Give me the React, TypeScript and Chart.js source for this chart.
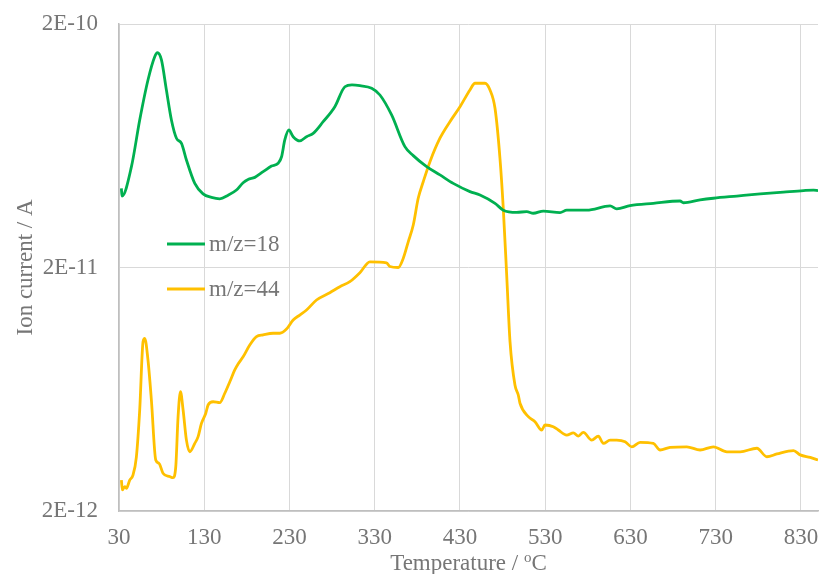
import { useEffect, useRef } from "react";
import { Chart, registerables } from "chart.js";

Chart.register(...registerables);

// m/z = 18 (water) — temperature in °C, ion current in pA
const tempH2O = [
  32.8, 33.5, 44.6, 54.3, 64.0, 71.9, 75.1, 79.8, 85.6, 91.5,
  97.4, 103.3, 109.1, 118.9, 128.6, 138.5, 148.2, 158.0, 167.8, 175.6,
  181.4, 189.3, 199.1, 208.9, 216.7, 220.7, 224.5, 229.2, 234.3, 242.1,
  250.0, 257.8, 269.5, 283.2, 295.0, 303.3, 312.7, 326.4, 336.1, 349.8,
  365.4, 375.2, 390.9, 406.5, 422.1, 441.7, 453.5, 471.1, 480.8, 496.5,
  508.3, 516.0, 527.8, 547.4, 555.3, 578.7, 606.1, 613.9, 629.5, 656.9,
  688.2, 692.1, 711.7, 727.3, 754.8, 782.2, 809.5, 833.0, 844.7, 850,
];
const ionH2O = [
  42.3, 39.3, 51.9, 80.7, 117.8, 146.8, 152.4, 142.4, 107.2, 80.7,
  67.9, 64.7, 55.3, 44.3, 40.1, 38.8, 38.3, 39.6, 41.6, 44.6,
  46.0, 46.9, 49.5, 52.2, 53.6, 57.0, 66.8, 73.4, 68.9, 66.2,
  68.9, 71.1, 79.4, 91.5, 110.5, 112.4, 111.6, 108.9, 102.2, 84.6,
  62.7, 57.6, 51.9, 48.0, 44.3, 41.0, 39.7, 36.7, 34.4, 33.7,
  33.9, 33.4, 34.1, 33.6, 34.4, 34.4, 35.8, 34.8, 35.9, 36.7,
  37.5, 36.9, 37.9, 38.5, 39.3, 40.1, 40.8, 41.4, 41.6, 41.4,
];

// m/z = 44 (carbon dioxide) — temperature in °C, ion current in pA
const tempCO2 = [
  32.8, 34.0, 36.7, 38.7, 42.6, 46.4, 50.4, 54.3, 58.2, 60.2,
  64.0, 68.0, 73.1, 76.9, 81.6, 89.5, 93.4, 96.6, 99.3, 102.1,
  105.2, 109.1, 113.0, 118.9, 122.8, 126.7, 131.8, 134.5, 140.4, 148.2,
  154.1, 160.0, 165.8, 169.7, 175.6, 183.4, 191.3, 199.1, 210.8, 218.7,
  226.5, 234.3, 242.1, 250.0, 261.7, 277.3, 289.1, 300.8, 312.6, 324.3,
  343.9, 347.8, 357.6, 363.4, 369.3, 375.2, 381.0, 386.9, 394.8, 406.5,
  418.2, 430.0, 441.7, 447.6, 459.3, 465.2, 471.1, 476.9, 480.8, 484.8,
  488.7, 494.5, 498.4, 500.4, 510.2, 518.0, 525.9, 529.8, 539.5, 545.4,
  555.2, 563.0, 568.9, 574.7, 584.6, 592.3, 598.2, 606.1, 613.9, 623.7,
  631.5, 641.3, 656.9, 664.8, 676.5, 696.1, 711.7, 727.3, 743.1, 758.7,
  778.3, 790.0, 801.8, 821.3, 829.1, 840.9, 850,
];
const ionCO2 = [
  2.68, 2.44, 2.52, 2.48, 2.68, 2.81, 3.34, 5.2, 9.92, 10.24,
  8.34, 5.71, 3.24, 3.14, 2.86, 2.77, 2.74, 3.04, 4.88, 6.18,
  5.2, 3.91, 3.5, 3.79, 4.04, 4.58, 5.04, 5.45, 5.62, 5.57,
  6.09, 6.79, 7.59, 8.03, 8.6, 9.61, 10.4, 10.57, 10.74, 10.74,
  11.18, 12.17, 12.76, 13.38, 14.71, 15.76, 16.68, 17.49, 19.04, 21.1,
  20.9, 20.2, 20.0, 21.8, 25.5, 29.9, 38.5, 45.0, 54.4, 67.9,
  79.4, 91.5, 107.2, 114.2, 114.2, 107.2, 90.1, 56.2, 35.0, 18.63,
  9.92, 6.58, 5.99, 5.54, 4.88, 4.65, 4.3, 4.51, 4.44, 4.3,
  4.1, 4.19, 4.06, 4.21, 3.91, 4.06, 3.79, 3.91, 3.91, 3.85,
  3.67, 3.83, 3.79, 3.56, 3.65, 3.67, 3.56, 3.67, 3.5, 3.5,
  3.62, 3.34, 3.43, 3.54, 3.4, 3.32, 3.24,
];

const seriesLabels = ["m/z=18", "m/z=44"];
const seriesColors = ["#00B050", "#FFC000"];

const xTicks = [30, 130, 230, 330, 430, 530, 630, 730, 830];
const yTicks = [2e-12, 2e-11, 2e-10];

const FONT = '"Liberation Serif", "Times New Roman", serif';
const TEXT = "#767676";
const LINE_W = 2.8;

const toPoints = (t: number[], pA: number[]) =>
  t.map((x, i) => ({ x, y: pA[i] * 1e-12 }));

// Legend drawn inside the plot area, to the left under the first peak
const innerLegend = {
  id: "innerLegend",
  afterDatasetsDraw(chart: any) {
    const { ctx, chartArea } = chart;
    ctx.save();
    chart.data.datasets.forEach((ds: any, i: number) => {
      const y = chartArea.top + 220 + i * 45;
      const x0 = chartArea.left + 48;
      ctx.strokeStyle = ds.borderColor;
      ctx.lineWidth = LINE_W;
      ctx.beginPath();
      ctx.moveTo(x0, y);
      ctx.lineTo(x0 + 38, y);
      ctx.stroke();
      ctx.fillStyle = TEXT;
      ctx.font = `23px ${FONT}`;
      ctx.textAlign = "left";
      ctx.textBaseline = "middle";
      ctx.fillText(ds.label, x0 + 42, y + 1);
    });
    ctx.restore();
  },
};

// X axis title with a raised "o" before the C
const xTitle = {
  id: "xTitle",
  afterDraw(chart: any) {
    const { ctx, chartArea } = chart;
    const main = "Temperature / ";
    const sup = "o";
    const unit = "C";
    ctx.save();
    ctx.fillStyle = TEXT;
    ctx.textBaseline = "alphabetic";
    ctx.textAlign = "left";
    ctx.font = `23px ${FONT}`;
    const wMain = ctx.measureText(main).width;
    const wUnit = ctx.measureText(unit).width;
    ctx.font = `15px ${FONT}`;
    const wSup = ctx.measureText(sup).width;
    const total = wMain + wSup + wUnit;
    const cx = (chartArea.left + chartArea.right) / 2;
    const baseY = 570;
    let x = cx - total / 2;
    ctx.font = `23px ${FONT}`;
    ctx.fillText(main, x, baseY);
    x += wMain;
    ctx.font = `15px ${FONT}`;
    ctx.fillText(sup, x, baseY - 8);
    x += wSup;
    ctx.font = `23px ${FONT}`;
    ctx.fillText(unit, x, baseY);
    ctx.restore();
  },
};

export default function App() {
  const canvasRef = useRef<HTMLCanvasElement | null>(null);

  useEffect(() => {
    if (!canvasRef.current) return;
    const chart = new Chart(canvasRef.current, {
      type: "line",
      data: {
        datasets: [
          {
            label: seriesLabels[0],
            data: toPoints(tempH2O, ionH2O),
            borderColor: seriesColors[0],
            backgroundColor: seriesColors[0],
            borderWidth: LINE_W,
            pointRadius: 0,
            cubicInterpolationMode: "monotone",
          },
          {
            label: seriesLabels[1],
            data: toPoints(tempCO2, ionCO2),
            borderColor: seriesColors[1],
            backgroundColor: seriesColors[1],
            borderWidth: LINE_W,
            pointRadius: 0,
            cubicInterpolationMode: "monotone",
          },
        ],
      },
      options: {
        responsive: false,
        animation: false,
        layout: { padding: { top: 24, right: 1, left: 0, bottom: 0 } },
        plugins: {
          legend: { display: false },
          tooltip: { enabled: false },
        },
        scales: {
          x: {
            type: "linear",
            min: 30,
            max: 850,
            afterBuildTicks: (scale: any) => {
              scale.ticks = xTicks.map((v) => ({ value: v }));
            },
            afterFit: (scale: any) => {
              scale.height = 63;
              scale.paddingLeft = 0;
              scale.paddingRight = 0;
            },
            ticks: {
              color: TEXT,
              font: { family: FONT, size: 23 },
              padding: 13,
              maxRotation: 0,
              autoSkip: false,
              callback: (v: any) => String(v),
            },
            grid: { color: "#d9d9d9", lineWidth: 1, drawTicks: false },
            border: { color: "#bfbfbf", width: 1.5 },
          },
          y: {
            type: "logarithmic",
            min: 2e-12,
            max: 2e-10,
            afterBuildTicks: (scale: any) => {
              scale.ticks = yTicks.map((v) => ({ value: v }));
            },
            afterFit: (scale: any) => {
              scale.width = 119;
              scale.paddingTop = 0;
              scale.paddingBottom = 0;
            },
            ticks: {
              color: TEXT,
              font: { family: FONT, size: 23 },
              padding: 21,
              autoSkip: false,
              callback: (v: any) => Number(v).toExponential(0).toUpperCase().replace("+", ""),
            },
            grid: { color: "#d9d9d9", lineWidth: 1, drawTicks: false },
            border: { color: "#bfbfbf", width: 1.5 },
            title: {
              display: true,
              text: "Ion current / A",
              color: TEXT,
              font: { family: FONT, size: 23 },
              padding: { top: 12, bottom: 0 },
            },
          },
        },
      },
      plugins: [innerLegend, xTitle],
    });
    return () => chart.destroy();
  }, []);

  return (
    <div style={{ position: "absolute", left: 0, top: 0, width: 819, height: 574 }}>
      <canvas ref={canvasRef} width={819} height={574} style={{ display: "block" }} />
    </div>
  );
}
